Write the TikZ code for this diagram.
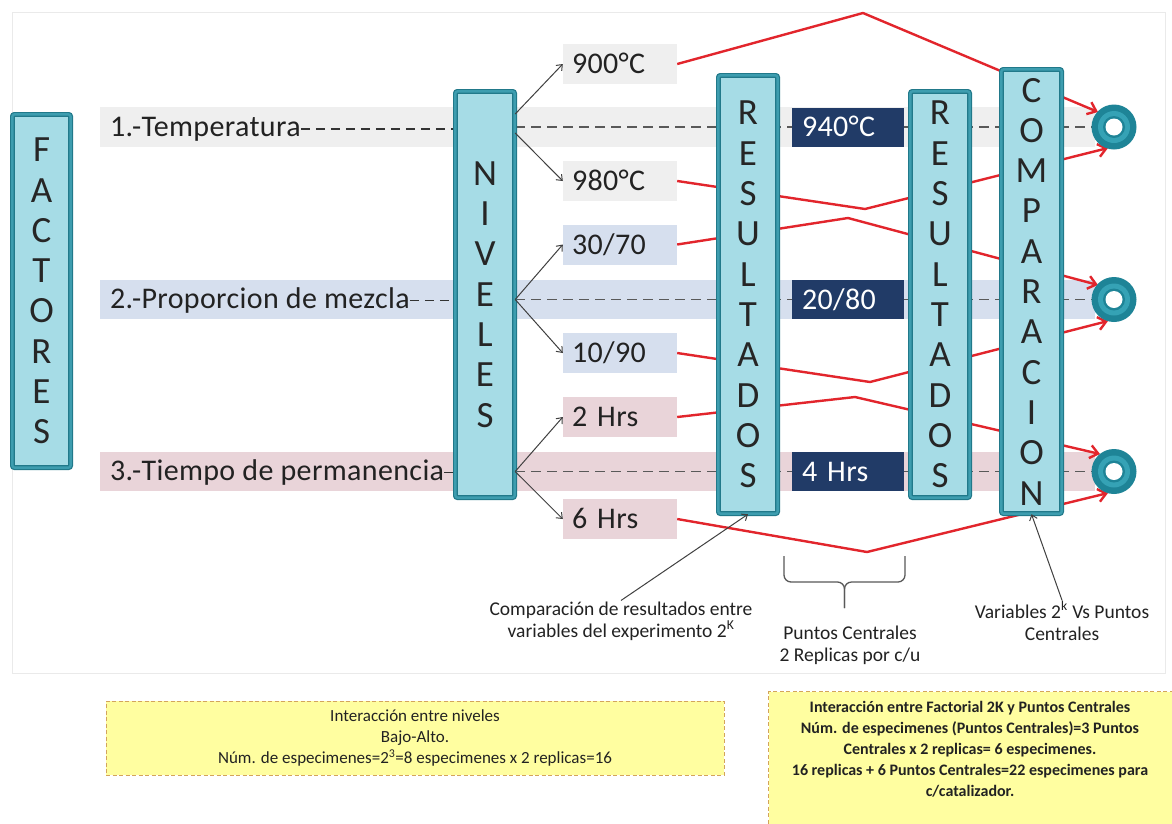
\documentclass[tikz,border=0pt]{standalone}
\usepackage{fontspec}
\setmainfont{Carlito}
\usetikzlibrary{arrows.meta}
\definecolor{bandgray}{HTML}{EFEFEF}
\definecolor{bandblue}{HTML}{D6DFEE}
\definecolor{bandpink}{HTML}{E9D4D9}
\definecolor{navy}{HTML}{213B67}
\definecolor{tealdark}{HTML}{21798A}
\definecolor{tealmid}{HTML}{3D9DAF}
\definecolor{cyanfill}{HTML}{A6DCE6}
\definecolor{redline}{HTML}{E2252C}
\definecolor{donutdark}{HTML}{1E8497}
\definecolor{donutmid}{HTML}{35A2B5}
\definecolor{ybfill}{HTML}{FFFEA0}
\definecolor{ybdraw}{HTML}{D3A45C}
\definecolor{txt}{HTML}{222222}
\definecolor{framegray}{HTML}{EAEAEA}
\pgfdeclarelayer{bg}
\pgfdeclarelayer{mid}
\pgfsetlayers{bg,mid,main}
\newcommand{\lblfont}{\fontsize{30}{32}\selectfont\addfontfeatures{LetterSpace=1.2}}
\begin{document}
\begin{tikzpicture}[x=1pt,y=-1pt,
  vbox/.style={draw=tealdark, line width=1.2pt, double=tealmid, double distance=2.4pt,
    fill=cyanfill, rounded corners=2pt, align=center, inner sep=0pt,
    font=\fontsize{37}{40.3}\selectfont, text=black!85},
  band/.style={inner sep=0pt, minimum height=39.5pt, minimum width=995pt},
  flabel/.style={anchor=base west, inner sep=0pt, font=\lblfont, text=txt},
  lvl/.style={minimum width=114pt, minimum height=40pt, inner xsep=9pt, inner ysep=0pt,
    text width=96pt, align=left, text height=19pt, text depth=0pt,
    font=\lblfont, text=txt},
  dbox/.style={fill=navy, text=white, minimum width=112pt, minimum height=39pt,
    inner xsep=10pt, inner ysep=0pt, text width=92pt, align=left, text height=19pt,
    text depth=0pt, font=\lblfont},
  donut/.style={circle, fill=donutdark, minimum size=45pt, inner sep=0pt},
  ldash/.style={draw=black!80, line width=1.8pt, dash pattern=on 9pt off 6pt},
  rdash/.style={draw=black!65, line width=1.2pt, dash pattern=on 10pt off 6pt},
  blk/.style={draw=black!75, line width=1pt, -{Straight Barb[length=5pt,width=8pt]}},
  redarr/.style={draw=redline, line width=2.4pt, line join=round,
    -{Straight Barb[length=8pt,width=13pt]}},
  ann/.style={align=center, inner sep=1pt, font=\fontsize{19.5}{22}\selectfont, text=txt},
  brc/.style={draw=black!65, line width=1.3pt, rounded corners=7pt},
  ybox/.style={fill=ybfill, draw=ybdraw, line width=1pt, dash pattern=on 4pt off 2.5pt},
  ytext/.style={align=center, inner sep=0pt, font=\fontsize{16}{21}\selectfont\bfseries, text=txt}
]
\useasboundingbox (0,0) rectangle (1172,823);
\clip (0,0) rectangle (1172,823);

% boxes
\node[vbox, minimum width=58.2pt, minimum height=353.2pt] (fac) at (41.5,291) {F\\A\\C\\T\\O\\R\\E\\S};
\node[vbox, minimum width=59.2pt, minimum height=406.2pt] (niv) at (485,294.5) {N\\I\\V\\E\\L\\E\\S};
\node[vbox, minimum width=59.2pt, minimum height=438.2pt] (res1) at (748,294.5) {R\\E\\S\\U\\L\\T\\A\\D\\O\\S};
\node[vbox, minimum width=59.2pt, minimum height=406.2pt] (res2) at (940,294.5) {R\\E\\S\\U\\L\\T\\A\\D\\O\\S};
\node[vbox, minimum width=60.2pt, minimum height=444.2pt] (comp) at (1031.5,291.5) {C\\O\\M\\P\\A\\R\\A\\C\\I\\O\\N};

\begin{pgfonlayer}{bg}
  \fill[white] (0,0) rectangle (1172,823);
  \draw[framegray, line width=0.8pt] (12,12) rectangle (1165,673);
  \node[band, fill=bandgray] (band1) at (597.5,127) {};
  \node[band, fill=bandblue] (band2) at (597.5,299.5) {};
  \node[band, fill=bandpink] (band3) at (597.5,471.5) {};
\end{pgfonlayer}

% factor labels
\node[flabel] (f1) at (110,136) {1.-Temperatura};
\node[flabel] (f2) at (110,308.5) {2.-Proporcion de mezcla};
\node[flabel] (f3) at (110,480.5) {3.-Tiempo de permanencia};

% level boxes
\node[lvl, fill=bandgray] (l900) at (620,64) {900°C};
\node[lvl, fill=bandgray] (l980) at (620,181) {980°C};
\node[lvl, fill=bandblue] (l3070) at (620,244.5) {30/70};
\node[lvl, fill=bandblue] (l1090) at (620,353) {10/90};
\node[lvl, fill=bandpink] (l2) at (620,417) {2 Hrs};
\node[lvl, fill=bandpink] (l6) at (620,519) {6 Hrs};

% central points
\node[dbox] (c1) at (848,127) {940°C};
\node[dbox] (c2) at (848,299.5) {20/80};
\node[dbox] (c3) at (848,471.5) {4 Hrs};

% donuts
\node[donut] (d1) at (1114,127) {};
\node[donut] (d2) at (1114,299.5) {};
\node[donut] (d3) at (1114,471.5) {};
\foreach \d in {d1,d2,d3}{
  \fill[donutmid] (\d.center) circle (16pt);
  \fill[donutdark] (\d.center) circle (11pt);
  \fill[white] (\d.center) circle (8.5pt);
}

% dashed guide lines
\begin{pgfonlayer}{mid}
  \draw[ldash] (f1.east) -- (f1.east -| niv.west);
  \draw[ldash] (f2.east) -- (f2.east -| niv.west);
  \draw[ldash] (f3.east) -- (f3.east -| niv.west);
  \draw[rdash] (band1.center -| niv.east) -- (d1.center);
  \draw[rdash] (band2.center -| niv.east) -- (d2.center);
  \draw[rdash] (band3.center -| niv.east) -- (d3.center);
\end{pgfonlayer}

% red connectors
\coordinate (p1) at (863,13);   \coordinate (t1) at (1098,112);
\coordinate (p2) at (865,209);  \coordinate (t2) at (1108,148);
\coordinate (p3) at (848,218);  \coordinate (t3) at (1098,285);
\coordinate (p4) at (870,382);  \coordinate (t4) at (1108,321);
\coordinate (p5) at (855,397);  \coordinate (t5) at (1100,454);
\coordinate (p6) at (867,552);  \coordinate (t6) at (1108,493);
\begin{pgfonlayer}{mid}
  \draw[redarr] (l900.east) -- (p1) -- (t1);
  \draw[redarr] (l980.east) -- (p2) -- (t2);
  \draw[redarr] (l3070.east) -- (p3) -- (t3);
  \draw[redarr] (l1090.east) -- (p4) -- (t4);
  \draw[redarr] (l2.east) -- (p5) -- (t5);
  \draw[redarr] (l6.east) -- (p6) -- (t6);
\end{pgfonlayer}

% level arrows
\draw[blk] ([yshift=13pt]band1.center -| niv.east) -- (l900.west);
\draw[blk] ([yshift=-6pt]band1.center -| niv.east) -- (l980.west);
\draw[blk] (band2.center -| niv.east) -- (l3070.west);
\draw[blk] (band2.center -| niv.east) -- (l1090.west);
\draw[blk] (band3.center -| niv.east) -- (l2.west);
\draw[blk] (band3.center -| niv.east) -- (l6.west);

% annotations
\node[ann] (a1) at (621,621) {Comparación de resultados entre\\variables del experimento 2\textsuperscript{K}};
\node[ann] (a2) at (850,645) {Puntos Centrales\\2 Replicas por c/u};
\node[ann] (a3) at (1062,621) {Variables 2\textsuperscript{k} Vs Puntos\\Centrales};
\draw[blk] (a1.north) -- (res1.south);
\draw[blk] (a3.north) -- (comp.south);

\coordinate (br1) at (784,556);
\coordinate (br2) at (905,556);
\coordinate (brm) at (844.5,582);
\coordinate (brt) at (844.5,608);
\draw[brc] (br1) |- (brm) -- (brt);
\draw[brc] (br2) |- (brm) -- (brt);

% bottom notes
\node[ybox, minimum width=618pt, minimum height=74pt, align=center, inner sep=0pt,
  font=\fontsize{17}{21}\selectfont, text=txt] (yb1) at (415,738)
  {Interacción entre niveles\\Bajo-Alto.\\Núm. de especimenes=2\textsuperscript{3}=8 especimenes x 2 replicas=16};
\node[ybox, minimum width=420pt, minimum height=150pt, anchor=north west] (yb2) at (768,691) {};
\node[ytext] (yt2) at (970,749) {Interacción entre Factorial 2K y Puntos Centrales\\Núm. de especimenes (Puntos Centrales)=3 Puntos\\Centrales x 2 replicas= 6 especimenes.\\16 replicas + 6 Puntos Centrales=22 especimenes para\\c/catalizador.};
\end{tikzpicture}
\end{document}
